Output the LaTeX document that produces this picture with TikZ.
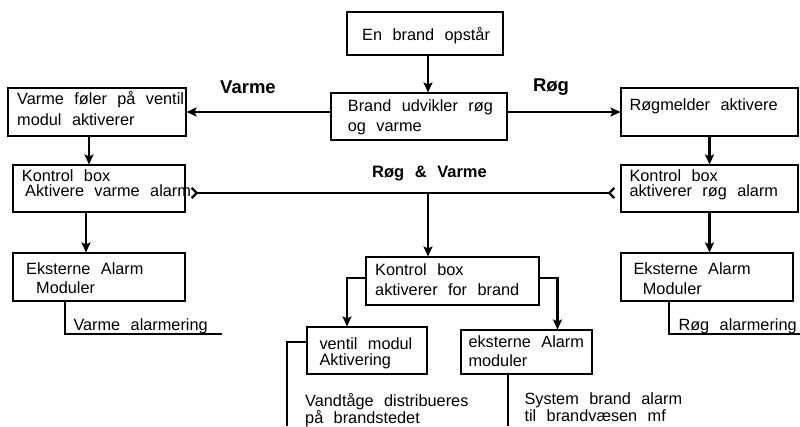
\documentclass[tikz,border=0pt]{standalone}
\usepackage{fontspec}
\setmainfont[WordSpace=2.3]{Liberation Sans}
\usetikzlibrary{arrows.meta,positioning}

\begin{document}
\begin{tikzpicture}[x=1pt,y=-1pt,>=Stealth, every node/.style={font=\fontsize{16.3}{19}\selectfont}]
\tikzstyle{box}=[draw, line width=1.1pt, inner sep=0pt]
\tikzstyle{txt}=[anchor=base west, align=left, inner sep=0pt]
\tikzstyle{hd}=[anchor=base, inner sep=0pt, font=\fontsize{18.5}{22}\selectfont\bfseries]
\tikzstyle{arr}=[line width=2.3pt, -{Stealth[length=10pt,width=9pt,inset=2pt]}]
\tikzstyle{thin}=[line width=1.1pt]
\useasboundingbox (0,0) rectangle (800,426);
\node[box, minimum width=156, minimum height=43] (start) at (425,33.5) {};
\node[box, minimum width=176, minimum height=47] (fire) at (419,116.5) {};
\node[box, minimum width=178, minimum height=48] (heat) at (97,112) {};
\node[box, minimum width=177, minimum height=48] (smoke) at (709.5,112) {};
\node[box, minimum width=172, minimum height=47] (ctrlheat) at (99,188.5) {};
\node[box, minimum width=177, minimum height=47] (ctrlsmoke) at (709.5,188.5) {};
\node[box, minimum width=172, minimum height=48] (extheat) at (99,277) {};
\node[box, minimum width=172, minimum height=48] (extsmoke) at (707,277) {};
\node[box, minimum width=173, minimum height=48] (ctrl) at (452.5,281) {};
\node[box, minimum width=120, minimum height=47] (valve) at (367,350.5) {};
\node[box, minimum width=131, minimum height=44] (ext) at (526.5,352) {};
\node[txt] (start-t) at (362,40) {En brand opstår};
\node[txt] (fire-t) at (347.7,131.7) {Brand udvikler røg\\[1pt]og varme};
\node[txt] (heat-t) at (17,125.3) {Varme føler på ventil\\[2pt]modul aktiverer};
\node[txt] (smoke-t) at (629.3,110) {Røgmelder aktivere};
\node[txt] (ctrlheat-t) at (21.7,196.7) {Kontrol box\\[-4pt]\hspace*{3.3pt}Aktivere varme alarm};
\node[txt] (ctrlsmoke-t) at (629.3,196.7) {Kontrol box\\[-4pt]aktiverer røg alarm};
\node[txt] (extheat-t) at (26,293) {Eksterne Alarm\\[0pt]\hspace*{10pt}Moduler};
\node[txt] (extsmoke-t) at (633.3,294) {Eksterne Alarm\\[1pt]\hspace*{9.4pt}Moduler};
\node[txt] (ctrl-t) at (375,295) {Kontrol box\\[1pt]aktiverer for brand};
\node[txt] (valve-t) at (319.3,365) {ventil modul\\[-3pt]Aktivering};
\node[txt] (ext-t) at (468.3,366.8) {eksterne Alarm\\[0.5pt]moduler};
\node[txt] (mist) at (305,423) {Vandtåge distribueres\\[-2pt]på brandstedet};
\node[txt] (alarm) at (524.3,421.7) {System brand alarm\\[-1.3pt]til brandvæsen mf};
\node[txt] (heatalarm) at (73.3,330) {Varme alarmering};
\node[txt] (smokealarm) at (678.3,330) {Røg alarmering};
\node[hd] (varme) at (248,93) {Varme};
\node[hd] (rog) at (551,91) {Røg};
\node[hd, font=\fontsize{16.5}{20}\selectfont\bfseries] (begge) at (429.5,177.3) {Røg \& Varme};
\coordinate (mid) at (428,193);
\coordinate (heatline) at (222,334);
\coordinate (smokeline) at (800,334);
\coordinate (valveend) at (287,426);
\coordinate (extend) at (508,426);
\draw[arr] (start.south -| mid) -- (fire.north -| mid);
\draw[arr] (heat.east -| fire.west) -- (heat.east);
\draw[arr] (smoke.west -| fire.east) -- (smoke.west);
\draw[arr] ([xshift=-8]heat.south) -- ([xshift=-8]heat.south |- ctrlheat.north);
\draw[arr] ([xshift=-13]ctrlheat.south) -- ([xshift=-13]ctrlheat.south |- extheat.north);
\draw[arr] (smoke.south) -- (smoke.south |- ctrlsmoke.north);
\draw[arr] (ctrlsmoke.south) -- (ctrlsmoke.south |- extsmoke.north);
\draw[line width=2.3pt, {Straight Barb[reversed,length=5pt,width=10pt]}-{Straight Barb[reversed,length=5pt,width=10pt]}, shorten <=5pt, shorten >=5pt] ([yshift=-4.5]ctrlheat.east) -- ([yshift=-4.5]ctrlsmoke.west);
\draw[arr] (mid) -- (mid |- ctrl.north);
\draw[arr] ([yshift=3]ctrl.west) -| ([xshift=-20]valve.north);
\draw[arr] ([yshift=3]ctrl.east) -| ([xshift=31]ext.north);
\draw[thin] ([yshift=8.5]valve.west) -| (valveend);
\draw[thin] (ext.south -| extend) -- (extend);
\draw[thin] ([xshift=-34]extheat.south) |- (heatline);
\draw[thin] ([xshift=-38]extsmoke.south) |- (smokeline);
\end{tikzpicture}
\end{document}
